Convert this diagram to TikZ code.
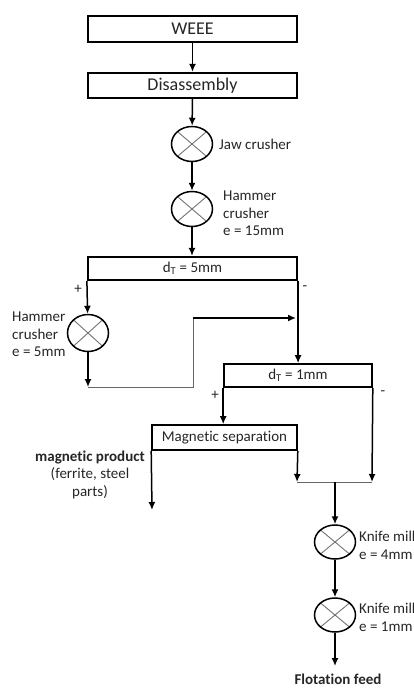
\documentclass[tikz,border=0pt]{standalone}
\usepackage{fontspec}
\setmainfont[Ligatures=NoCommon]{Carlito}
\usetikzlibrary{shapes.geometric,arrows.meta}
\begin{document}
\begin{tikzpicture}[x=1pt,y=-1pt,
  txt/.style={text=black!85,font=\fontsize{15}{17.5}\selectfont,inner sep=0pt},
  bigbox/.style={draw,line width=2.2pt,minimum width=209pt,inner sep=0pt,text=black!85,font=\fontsize{18}{20}\selectfont},
  sievebox/.style={draw,line width=1.6pt,inner sep=0pt,text=black!85,font=\fontsize{15}{17}\selectfont},
  mill/.style={ellipse,draw,line width=1.5pt,minimum width=41pt,minimum height=35pt,inner sep=0pt,
    path picture={\draw[black!55,line width=0.9pt]
      (path picture bounding box.south west) -- (path picture bounding box.north east)
      (path picture bounding box.north west) -- (path picture bounding box.south east);}},
  flow/.style={line width=1.5pt,-{Latex[length=8pt,width=7pt]}},
  thin/.style={black!60,line width=1pt}
]
\useasboundingbox (0,0) rectangle (414,688);

% nodes
\node[bigbox,minimum height=26pt] (weee) at (192.5,29) {WEEE};
\node[bigbox,minimum height=25pt] (dis) at (192.5,85.5) {Disassembly};
\node[mill] (jaw) at (192,144) {};
\node[mill] (ham1) at (192,209) {};
\node[bigbox,minimum height=23pt,font=\fontsize{15}{17}\selectfont] (sc5) at (192.5,268.5) {d\textsubscript{T} = 5mm};
\node[mill,minimum height=37pt] (ham2) at (88,333) {};
\node[sievebox,minimum width=148pt,minimum height=23pt] (sc1) at (298,375.5) {d\textsubscript{T} = 1mm};
\node[sievebox,minimum width=145pt,minimum height=25pt] (mag) at (224.5,437.5) {Magnetic separation};
\node[mill,minimum height=34pt] (km1) at (335,542) {};
\node[mill,minimum height=34pt] (km2) at (335,615) {};

% labels
\node[txt,anchor=west] (ljaw) at (219,144) {Jaw crusher};
\node[txt,anchor=west,align=left] (lham1) at (223,213.5) {Hammer\\crusher\\e = 15mm};
\node[txt,anchor=west,align=left] (lham2) at (12,334.5) {Hammer\\crusher\\e = 5mm};
\node[txt] (p1) at (78,289) {+};
\node[txt] (m1) at (305,288) {-};
\node[txt] (p2) at (215,395) {+};
\node[txt] (m2) at (383,393) {-};
\node[txt,align=center] (lmag) at (90,474.5) {\textbf{magnetic product}\\(ferrite, steel\\parts)};
\node[txt,anchor=west,align=left] (lkm1) at (359,545.5) {Knife mill\\e = 4mm};
\node[txt,anchor=west,align=left] (lkm2) at (359,617.5) {Knife mill\\e = 1mm};
\node[txt,font=\fontsize{15}{17}\selectfont\bfseries] (flot) at (338,679.5) {Flotation feed};

% coordinates
\coordinate (r1) at (88,387);
\coordinate (r2) at (193,387);
\coordinate (r3) at (193,318);
\coordinate (r4) at (297,318);
\coordinate (j1) at (297,482);
\coordinate (j2) at (372,482);
\coordinate (j3) at (335,482);
\coordinate (mp) at (152,510);
\coordinate (fe) at (335,666);

% connectors
\draw[flow] (weee) -- (dis);
\draw[flow] (dis) -- (jaw);
\draw[flow] (jaw) -- (ham1);
\draw[flow] (ham1) -- (ham1 |- sc5.north);
\draw[flow] (sc5.south west) -- (ham2);
\draw[flow] (ham2) -- (r1);
\draw[thin] (r1) -- (r2) -- (r3);
\draw[flow] (r3) -- ([xshift=-1pt]r4);
\draw[flow] (sc5.south east) -- (sc5.south east |- sc1.north);
\draw[flow] (sc1.south west) -- (sc1.south west |- mag.north);
\draw[flow] (sc1.south east) -- (j2);
\draw[flow] (mag.south east) -- (j1);
\draw[thin] (j1) -- (j2);
\draw[flow] (mag.south west) -- (mp);
\draw[flow] (j3) -- (km1);
\draw[flow] (km1) -- (km2);
\draw[flow] (km2) -- (fe);
\end{tikzpicture}
\end{document}
